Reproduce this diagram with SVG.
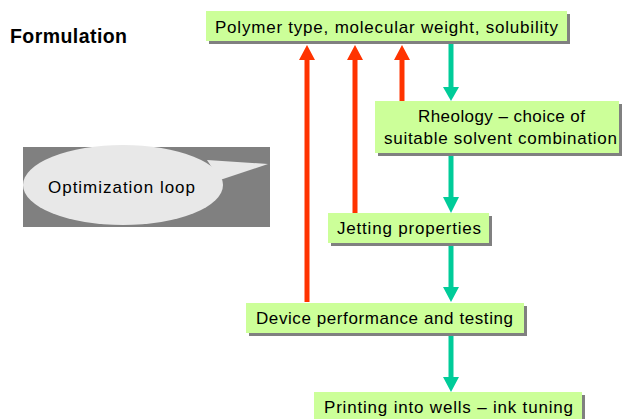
<svg xmlns="http://www.w3.org/2000/svg" width="622" height="419" viewBox="0 0 622 419">
<style>
.box{fill:#ccff99}
.sh{fill:#808080}
.t{font-family:"Liberation Sans",Arial,sans-serif;font-size:17px;fill:#000}
.red{stroke:#ff3300;stroke-width:5;fill:none}
.grn{stroke:#00cc99;stroke-width:5;fill:none}
.rh{fill:#ff3300}
.gh{fill:#00cc99}
</style>
<rect width="622" height="419" fill="#ffffff"/>
<text x="10" y="43" textLength="117" lengthAdjust="spacing" style="font-family:'Liberation Sans',Arial,sans-serif;font-size:19.5px;font-weight:bold">Formulation</text>
<g id="callout">
<rect x="23" y="147" width="247" height="80" fill="#808080"/>
<path d="M207,160 L268,164 L220,180 Z" fill="#e8e8e8"/>
<ellipse cx="123" cy="185" rx="100" ry="40" fill="#e8e8e8"/>
<text x="48" y="193" textLength="147" lengthAdjust="spacing" class="t">Optimization loop</text>
</g>
<g id="connectors">
<line class="red" x1="307" y1="302" x2="307" y2="58"/>
<polygon class="rh" points="307,45 299,60 315,60"/>
<line class="red" x1="355" y1="213" x2="355" y2="58"/>
<polygon class="rh" points="355,45 347,60 363,60"/>
<line class="red" x1="402" y1="101" x2="402" y2="58"/>
<polygon class="rh" points="402,45 394,60 410,60"/>
<line class="grn" x1="451" y1="44" x2="451" y2="89"/>
<polygon class="gh" points="451,101 443,87 459,87"/>
<line class="grn" x1="451" y1="156" x2="451" y2="199"/>
<polygon class="gh" points="451,213 443,197 459,197"/>
<line class="grn" x1="451" y1="246" x2="451" y2="289"/>
<polygon class="gh" points="451,302 443,287 459,287"/>
<line class="grn" x1="451" y1="336" x2="451" y2="379"/>
<polygon class="gh" points="451,392 443,377 459,377"/>
</g>
<g id="polymer">
<rect class="sh" x="209" y="14" width="361" height="30"/>
<rect class="box" x="206" y="11" width="361" height="30"/>
<text class="t" x="215" y="33" textLength="343" lengthAdjust="spacing">Polymer type, molecular weight, solubility</text>
</g>
<g id="rheology">
<rect class="sh" x="378" y="104" width="244" height="52"/>
<rect class="box" x="375" y="101" width="244" height="52"/>
<text class="t" x="418" y="122" textLength="167" lengthAdjust="spacing">Rheology – choice of</text>
<text class="t" x="384" y="144" textLength="233" lengthAdjust="spacing">suitable solvent combination</text>
</g>
<g id="jetting">
<rect class="sh" x="331" y="216" width="161" height="30"/>
<rect class="box" x="328" y="213" width="161" height="30"/>
<text class="t" x="337" y="234" textLength="144" lengthAdjust="spacing">Jetting properties</text>
</g>
<g id="device">
<rect class="sh" x="249" y="306" width="278" height="30"/>
<rect class="box" x="246" y="303" width="278" height="30"/>
<text class="t" x="256" y="324" textLength="257" lengthAdjust="spacing">Device performance and testing</text>
</g>
<g id="printing">
<rect class="sh" x="317" y="395" width="268" height="30"/>
<rect class="box" x="314" y="392" width="268" height="30"/>
<text class="t" x="324" y="413" textLength="249" lengthAdjust="spacing">Printing into wells – ink tuning</text>
</g>
</svg>
